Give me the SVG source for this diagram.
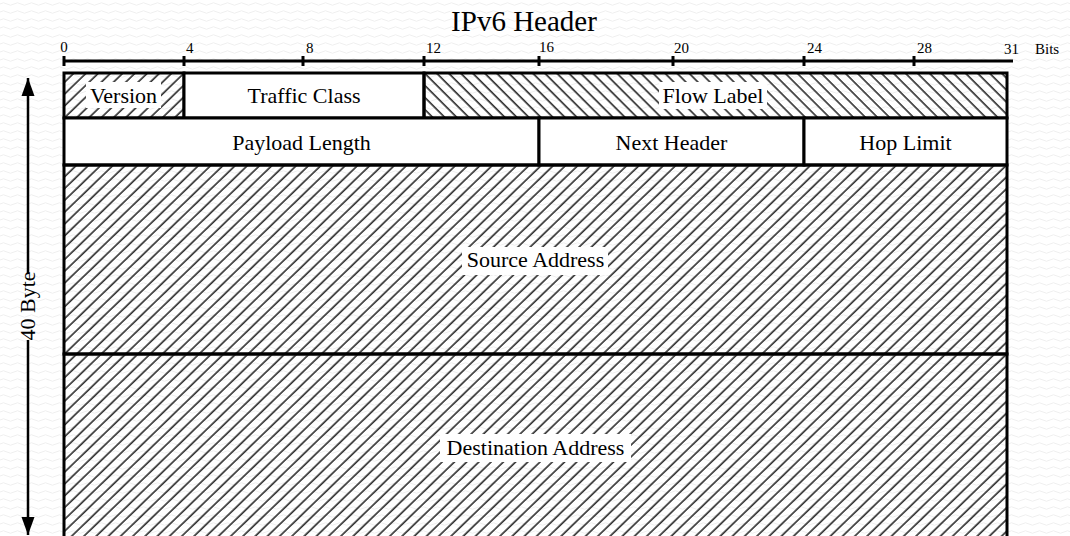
<svg xmlns="http://www.w3.org/2000/svg" width="1070" height="536" viewBox="0 0 1070 536">
  <defs>
    <pattern id="bg" width="14" height="8" patternUnits="userSpaceOnUse">
      <path d="M0 4 Q3.5 1.5 7 4 T14 4" fill="none" stroke="#efefef" stroke-width="1"/>
    </pattern>
    <pattern id="hatchFwd" width="8.5" height="8" patternUnits="userSpaceOnUse" patternTransform="rotate(46)">
      <line x1="2" y1="0" x2="2" y2="8" stroke="#2a2a2a" stroke-width="1.6"/>
    </pattern>
    <pattern id="hatchBack" width="8.5" height="8" patternUnits="userSpaceOnUse" patternTransform="rotate(-45)">
      <line x1="2" y1="0" x2="2" y2="8" stroke="#2a2a2a" stroke-width="1.6"/>
    </pattern>
    <marker id="arrow" viewBox="0 0 18 14" refX="18" refY="7" markerWidth="18" markerHeight="14" markerUnits="userSpaceOnUse" orient="auto-start-reverse">
      <path d="M0 0.5 L18 7 L0 13.5 Z" fill="#000"/>
    </marker>
    <style>
      .box { stroke: #000; stroke-width: 3; }
      .lbl { font-family: "Liberation Serif", "Times New Roman", serif; font-size: 22px; fill: #000; text-anchor: middle; }
      .tick { font-family: "Liberation Serif", "Times New Roman", serif; font-size: 15px; fill: #000; }
      .title { font-family: "Liberation Serif", "Times New Roman", serif; font-size: 29px; fill: #000; text-anchor: middle; }
      .ln { stroke: #000; stroke-width: 3; fill: none; }
      .tbg { fill: #fff; }
    </style>
  </defs>

  <rect x="0" y="0" width="1070" height="536" fill="#fff"/>
  <rect x="0" y="0" width="1070" height="536" fill="url(#bg)"/>

  <text class="title" x="524" y="31">IPv6 Header</text>

  <g id="ruler">
    <line class="ln" x1="64" y1="61" x2="1013" y2="61"/>
    <line class="ln" x1="64" y1="56" x2="64" y2="66"/>
    <line class="ln" x1="184" y1="56" x2="184" y2="66"/>
    <line class="ln" x1="303" y1="56" x2="303" y2="66"/>
    <line class="ln" x1="424" y1="56" x2="424" y2="66"/>
    <line class="ln" x1="539" y1="56" x2="539" y2="66"/>
    <line class="ln" x1="673" y1="56" x2="673" y2="66"/>
    <line class="ln" x1="804" y1="56" x2="804" y2="66"/>
    <line class="ln" x1="914" y1="56" x2="914" y2="66"/>
    <text class="tick" x="64" y="52" text-anchor="middle">0</text>
    <text class="tick" x="186" y="53">4</text>
    <text class="tick" x="306" y="53">8</text>
    <text class="tick" x="426" y="53">12</text>
    <text class="tick" x="539" y="52">16</text>
    <text class="tick" x="674" y="53">20</text>
    <text class="tick" x="807" y="53">24</text>
    <text class="tick" x="917" y="53">28</text>
    <text class="tick" x="1004" y="54">31</text>
    <text class="tick" x="1035" y="54">Bits</text>
  </g>

  <g id="version">
    <rect class="box" x="64" y="73" width="120" height="45" fill="url(#hatchFwd)"/>
    <rect class="tbg" x="86" y="82" width="75" height="26"/>
    <text class="lbl" x="123.5" y="103">Version</text>
  </g>
  <g id="traffic-class">
    <rect class="box" x="184" y="73" width="240" height="45" fill="#fff"/>
    <text class="lbl" x="304" y="103">Traffic Class</text>
  </g>
  <g id="flow-label">
    <rect class="box" x="424" y="73" width="583" height="45" fill="url(#hatchBack)"/>
    <rect class="tbg" x="659" y="82" width="108" height="27"/>
    <text class="lbl" x="713" y="103">Flow Label</text>
  </g>

  <g id="payload-length">
    <rect class="box" x="64" y="118" width="475" height="47" fill="#fff"/>
    <text class="lbl" x="301.5" y="150">Payload Length</text>
  </g>
  <g id="next-header">
    <rect class="box" x="539" y="118" width="265" height="47" fill="#fff"/>
    <text class="lbl" x="671.5" y="150">Next Header</text>
  </g>
  <g id="hop-limit">
    <rect class="box" x="804" y="118" width="203" height="47" fill="#fff"/>
    <text class="lbl" x="905.5" y="150">Hop Limit</text>
  </g>

  <g id="source-address">
    <rect class="box" x="64" y="165" width="943" height="189" fill="url(#hatchFwd)"/>
    <rect class="tbg" x="462" y="247" width="146" height="28"/>
    <text class="lbl" x="535.5" y="267">Source Address</text>
  </g>
  <g id="destination-address">
    <rect class="box" x="64" y="354" width="943" height="200" fill="url(#hatchFwd)"/>
    <rect class="tbg" x="440" y="434" width="191" height="28"/>
    <text class="lbl" x="535.5" y="455">Destination Address</text>
  </g>

  <g id="connectors">
    <line x1="28" y1="78" x2="28" y2="273" stroke="#000" stroke-width="2.5" marker-start="url(#arrow)"/>
    <line x1="28" y1="340" x2="28" y2="535" stroke="#000" stroke-width="2.5" marker-end="url(#arrow)"/>
  </g>
  <g id="size-label">
    <text class="lbl" x="0" y="0" transform="translate(35,306) rotate(-90)">40 Byte</text>
  </g>
</svg>
